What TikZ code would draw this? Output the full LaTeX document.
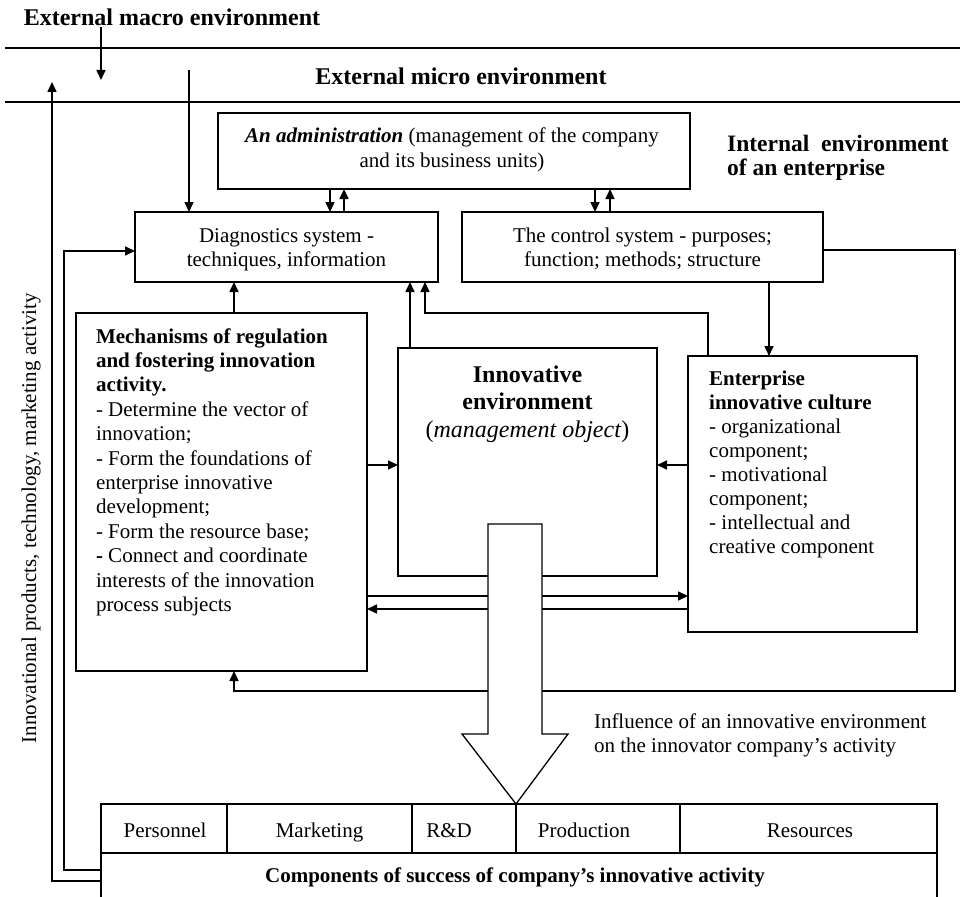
\documentclass[tikz,border=0pt]{standalone}
\usepackage{fontspec}
\setmainfont{Liberation Serif}
\usetikzlibrary{arrows.meta}
\newcommand\linesC[1]{\vtop{\halign{\hfil##\hfil\cr#1\crcr}}}
\newcommand\linesL[1]{\vtop{\halign{##\hfil\cr#1\crcr}}}
\newcommand\bodyfont{\fontsize{21}{24.4}\selectfont}
\newcommand\headfont{\fontsize{24}{27.5}\selectfont\bfseries}
\begin{document}
\begin{tikzpicture}[x=1pt,y=-1pt,
  ln/.style={line width=1.6pt},
  arr/.style={line width=1.6pt,-{Triangle[length=10pt,width=9pt]}},
  box/.style={draw,line width=1.6pt,inner sep=0pt,outer sep=0pt},
  txt/.style={inner sep=0pt,outer sep=0pt,font=\bodyfont},
  head/.style={inner sep=0pt,outer sep=0pt,font=\headfont}]
\useasboundingbox (0,0) rectangle (960,896);

% environment separators and headings
\node[head,anchor=base] (macro) at (172,26) {External macro environment};
\node[head,anchor=base] (micro) at (461,85) {External micro environment};
\node[inner sep=0pt,anchor=base west,font=\fontsize{23.5}{24}\selectfont\bfseries] (internal) at (727,152) {\linesL{Internal\ \ environment\cr of an enterprise}};
\draw[ln] (5,48) -- (960,48);
\draw[ln] (5,102) -- (960,102);

% boxes
\node[box,minimum width=472,minimum height=76] (adm) at (454,151) {};
\node[box,minimum width=303,minimum height=70] (diag) at (286.5,247) {};
\node[box,minimum width=361,minimum height=70] (ctrl) at (642.5,247) {};
\node[box,minimum width=291,minimum height=358] (mech) at (221.5,492) {};
\node[box,minimum width=259,minimum height=228] (inno) at (527.5,462) {};
\node[box,minimum width=229,minimum height=276] (ent) at (802.5,494) {};

% box texts
\node[txt,anchor=base] (admtext) at (452,143) {\linesC{\textbf{\textit{An administration}} (management of the company\cr and its business units)}};
\node[txt,anchor=base] (diagtext) at (286.5,242) {\linesC{Diagnostics system -\cr techniques, information}};
\node[txt,anchor=base] (ctrltext) at (642.5,242) {\linesC{The control system - purposes;\cr function; methods; structure}};
\node[txt,anchor=base west] (mechtext) at (96,343) {\linesL{\bfseries Mechanisms of regulation\cr
\bfseries and fostering innovation\cr
\bfseries activity.\cr
- Determine the vector of\cr
innovation;\cr
- Form the foundations of\cr
enterprise innovative\cr
development;\cr
- Form the resource base;\cr
\textbf{-} Connect and coordinate\cr
interests of the innovation\cr
process subjects}};
\node[inner sep=0pt,anchor=base,font=\fontsize{24}{27.5}\selectfont] (innotext) at (527.5,382) {\linesC{\bfseries Innovative\cr \bfseries environment\cr (\textit{management object})}};
\node[inner sep=0pt,anchor=base west,font=\fontsize{21}{24.1}\selectfont] (enttext) at (709,385) {\linesL{\bfseries Enterprise\cr
\bfseries innovative culture\cr
- organizational\cr
component;\cr
- motivational\cr
component;\cr
- intellectual and\cr
creative component}};
\node[txt,anchor=base west] (influence) at (594,728) {\linesL{Influence of an innovative environment\cr on the innovator company’s activity}};
\node[txt,anchor=base west,rotate=90] (side) at (36,743) {Innovational products, technology, marketing activity};

% components of success
\node[box,minimum width=126,minimum height=49] (pers) at (164,828.5) {};
\node[box,minimum width=185,minimum height=49] (mark) at (319.5,828.5) {};
\node[box,minimum width=104,minimum height=49] (rd) at (464,828.5) {};
\node[box,minimum width=164,minimum height=49] (prod) at (598,828.5) {};
\node[box,minimum width=257,minimum height=49] (res) at (808.5,828.5) {};
\node[box,minimum width=836,minimum height=57] (comp) at (519,881.5) {};
\node[txt,anchor=base] (perst) at (165,837) {Personnel};
\node[txt,anchor=base] (markt) at (319.5,837) {Marketing};
\node[txt,anchor=base] (rdt) at (449,837) {R\&D};
\node[txt,anchor=base] (prodt) at (584,837) {Production};
\node[txt,anchor=base] (rest) at (810,837) {Resources};
\node[txt,anchor=base,font=\bodyfont\bfseries] (compt) at (515,882) {Components of success of company’s innovative activity};

% connectors
\coordinate (macroA) at (101,27);
\coordinate (macroB) at (101,80);
\coordinate (outerTop) at (52,82);
\coordinate (microA) at (189,70);
\draw[arr] (macroA) -- (macroB);
\draw[arr] (comp.west |- 0,881) -- (52,881) -- (outerTop);
\draw[arr] (comp.west |- 0,870) -- (64,870) -- (64,251) -- (diag.west |- 0,251);
\draw[arr] (microA) -- (diag.north -| 189,0);
\draw[arr] (adm.south -| 330,0) -- (diag.north -| 330,0);
\draw[arr] (diag.north -| 344,0) -- (adm.south -| 344,0);
\draw[arr] (adm.south -| 595,0) -- (ctrl.north -| 595,0);
\draw[arr] (ctrl.north -| 610,0) -- (adm.south -| 610,0);
\draw[arr] (mech.north -| 234,0) -- (diag.south -| 234,0);
\draw[arr] (inno.north -| 410,0) -- (diag.south -| 410,0);
\draw[arr] (ent.north -| 708,0) -- (708,313) -- (425,313) -- (diag.south -| 425,0);
\draw[arr] (ctrl.south -| 769,0) -- (ent.north -| 769,0);
\draw[arr] (ctrl.east |- 0,250) -- (955,250) -- (955,691) -- (234,691) -- (mech.south -| 234,0);
\draw[arr] (mech.east |- 0,465) -- (inno.west |- 0,465);
\draw[arr] (ent.west |- 0,465) -- (inno.east |- 0,465);
\draw[arr] (mech.east |- 0,596) -- (ent.west |- 0,596);
\draw[arr] (ent.west |- 0,609) -- (mech.east |- 0,609);

% big hollow arrow
\draw[line width=1.3pt,fill=white] (488,524) -- (542,524) -- (542,734) -- (568,734) -- (516,804) -- (462,734) -- (488,734) -- cycle;
\end{tikzpicture}
\end{document}
